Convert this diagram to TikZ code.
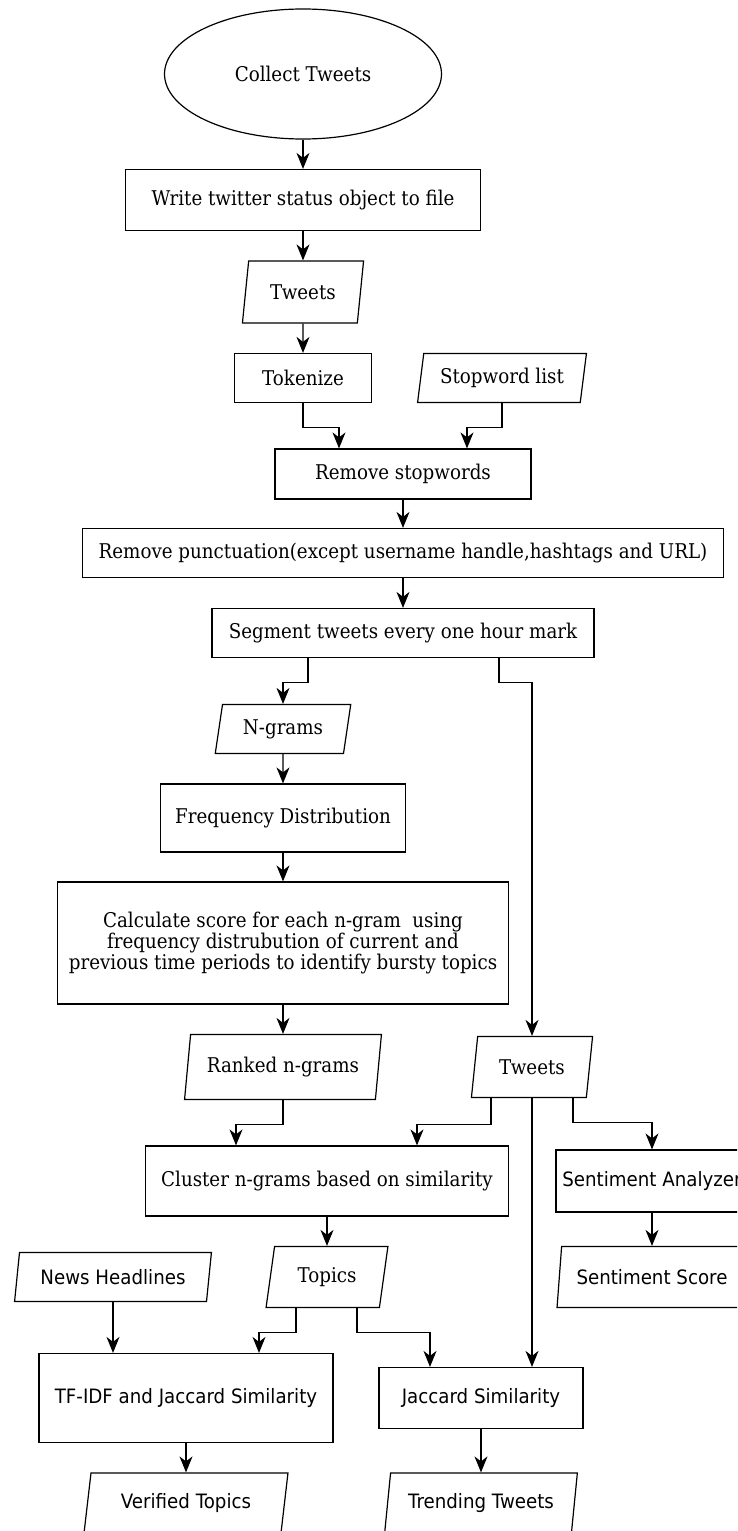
\documentclass[tikz,border=0pt]{standalone}
\usepackage{fontspec}
\setmainfont{DejaVu Serif}[FakeStretch=0.9]
\newfontfamily\sansfam{DejaVu Sans}[FakeStretch=0.92]
\usepackage{tikz}
\usetikzlibrary{arrows.meta, shapes.geometric, calc}

\begin{document}
\begin{tikzpicture}[x=1pt, y=-1pt, >={Stealth[length=16pt, width=13pt, inset=5pt]},
    every node/.style={font=\fontsize{20.3}{21.3}\selectfont, line width=1.2pt, inner sep=0pt},
    sans/.style={font=\sansfam\fontsize{19.8}{21.3}\selectfont},
    startnode/.style={draw, ellipse, minimum width=277pt, minimum height=130pt},
    procbox/.style={draw, rectangle, align=center},
    iobox/.style={draw, trapezium, trapezium left angle=76, trapezium right angle=104,
        trapezium stretches=true},
    flow/.style={->, line width=1.2pt}]
    \useasboundingbox (0,0) rectangle (737,1531);
    \clip (0,0) rectangle (737,1531);
    \node[startnode] (collect) at (303,74) {Collect Tweets};
    \node[procbox, minimum width=355pt, minimum height=61pt] (write) at (303,200) {Write twitter status object to file};
    \node[iobox, minimum width=122pt, minimum height=62pt] (tweetsA) at (303,292) {Tweets};
    \node[procbox, minimum width=137pt, minimum height=49pt] (tokenize) at (303,378) {Tokenize};
    \node[iobox, minimum width=169pt, minimum height=49pt] (stoplist) at (502,378) {Stopword list};
    \node[procbox, minimum width=256pt, minimum height=50pt] (stopwords) at (403,474) {Remove stopwords};
    \node[procbox, minimum width=641pt, minimum height=49pt] (punct) at (403,553) {Remove punctuation(except username handle,hashtags and URL)};
    \node[procbox, minimum width=382pt, minimum height=49pt] (segment) at (403,633) {Segment tweets every one hour mark};
    \node[iobox, minimum width=136pt, minimum height=49pt] (ngrams) at (283,729) {N-grams};
    \node[procbox, minimum width=245pt, minimum height=68pt] (freq) at (283,818) {Frequency Distribution};
    \node[procbox, minimum width=451pt, minimum height=122pt] (score) at (283,943)
        {Calculate score for each n-gram~ using\\frequency distrubution of current and\\previous time periods to identify bursty topics};
    \node[iobox, minimum width=197pt, minimum height=65pt] (ranked) at (283,1067) {Ranked n-grams};
    \node[iobox, minimum width=122pt, minimum height=61pt] (tweetsB) at (532,1067) {Tweets};
    \node[procbox, minimum width=363pt, minimum height=70pt] (cluster) at (327,1181) {Cluster n-grams based on similarity};
    \node[procbox, sans, minimum width=192pt, minimum height=62pt] (analyzer) at (652,1181) {Sentiment Analyzer};
    \node[iobox, minimum width=122pt, minimum height=61pt] (topics) at (327,1277) {Topics};
    \node[iobox, sans, minimum width=197pt, minimum height=49pt] (news) at (113,1277) {News Headlines};
    \node[iobox, sans, minimum width=190pt, minimum height=61pt] (sentscore) at (652,1277) {Sentiment Score};
    \node[procbox, sans, minimum width=294pt, minimum height=89pt] (tfidf) at (186,1398) {TF-IDF and Jaccard Similarity};
    \node[procbox, sans, minimum width=204pt, minimum height=61pt] (jaccard) at (481,1398) {Jaccard Similarity};
    \node[iobox, sans, minimum width=204pt, minimum height=60pt] (verified) at (186,1503) {Verified Topics};
    \node[iobox, sans, minimum width=193pt, minimum height=60pt] (trending) at (481,1503) {Trending Tweets};
    \draw[flow] (collect) -- (write);
    \draw[flow] (write) -- (tweetsA);
    \draw[flow] (tweetsA) -- (tokenize);
    \draw[flow] (tokenize.south) -- ++(0,24) -| ([xshift=-64pt]stopwords.north);
    \draw[flow] (stoplist.south) -- ++(0,24) -| ([xshift=64pt]stopwords.north);
    \draw[flow] (stopwords) -- (punct);
    \draw[flow] (punct) -- (segment);
    \draw[flow] ([xshift=-95pt]segment.south) -- ++(0,24) -| (ngrams.north);
    \draw[flow] ([xshift=96pt]segment.south) -- ++(0,24) -| (tweetsB.north);
    \draw[flow] (ngrams) -- (freq);
    \draw[flow] (freq) -- (score);
    \draw[flow] (score) -- (ranked);
    \draw[flow] (ranked.south) -- ++(0,24) -| ([xshift=-91pt]cluster.north);
    \draw[flow] ([xshift=-41pt]tweetsB.south) -- ++(0,26) -| ([xshift=90pt]cluster.north);
    \draw[flow] (tweetsB.south) -- (tweetsB.south |- jaccard.north);
    \draw[flow] ([xshift=41pt]tweetsB.south) -- ++(0,24) -| (analyzer.north);
    \draw[flow] (cluster) -- (topics);
    \draw[flow] (analyzer) -- (sentscore);
    \draw[flow] (news.south) -- (news.south |- tfidf.north);
    \draw[flow] ([xshift=-31pt]topics.south) -- ++(0,24) -| ([xshift=73pt]tfidf.north);
    \draw[flow] ([xshift=30pt]topics.south) -- ++(0,24) -| ([xshift=-51pt]jaccard.north);
    \draw[flow] (tfidf) -- (verified);
    \draw[flow] (jaccard) -- (trending);
\end{tikzpicture}
\end{document}
